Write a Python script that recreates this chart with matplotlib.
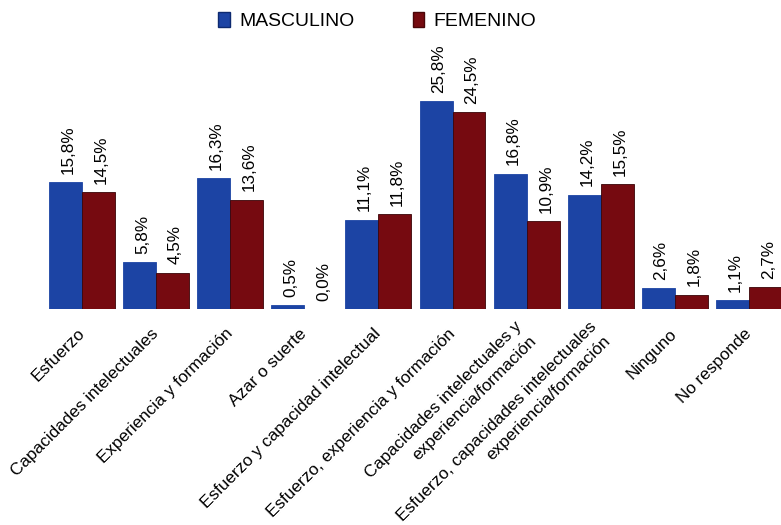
import matplotlib
matplotlib.use("Agg")
import matplotlib.pyplot as plt
from matplotlib import font_manager
from matplotlib.patches import Patch
from matplotlib.transforms import ScaledTranslation

# data
categorias = [
    "Esfuerzo",
    "Capacidades intelectuales",
    "Experiencia y formación",
    "Azar o suerte",
    "Esfuerzo y capacidad intelectual",
    "Esfuerzo, experiencia y formación",
    "Capacidades intelectuales y\nexperiencia/formación",
    "Esfuerzo, capacidades intelectuales\nexperiencia/formación",
    "Ninguno",
    "No responde",
]
masculino = [15.8, 5.8, 16.3, 0.5, 11.1, 25.8, 16.8, 14.2, 2.6, 1.1]
femenino = [14.5, 4.5, 13.6, 0.0, 11.8, 24.5, 10.9, 15.5, 1.8, 2.7]
series_names = ["MASCULINO", "FEMENINO"]

color_m = "#1c44a4"
color_f = "#760a10"

# condensed font if present
installed = {f.name for f in font_manager.fontManager.ttflist}
if "Liberation Sans Narrow" in installed:
    fam, scale = "Liberation Sans Narrow", 1.0
else:
    fam, scale = "Liberation Sans", 0.82
plt.rcParams["font.family"] = [fam, "DejaVu Sans"]

fig = plt.figure(figsize=(7.81, 5.25), dpi=100)
ax = fig.add_axes([0, 0.4114, 1, 0.5028])

x = list(range(len(categorias)))
w = 0.445
bars_m = ax.bar([i - w / 2 for i in x], masculino, width=w, color=color_m,
                edgecolor=color_m, linewidth=0.6)
bars_f = ax.bar([i + w / 2 for i in x], femenino, width=w, color=color_f,
                edgecolor="#3a0306", linewidth=0.6)

def fmt(v):
    return f"{v:.1f}%".replace(".", ",")

for bars, vals in [(bars_m, masculino), (bars_f, femenino)]:
    for b, v in zip(bars, vals):
        ax.annotate(fmt(v), (b.get_x() + b.get_width() / 2, v),
                    xytext=(2, 6), textcoords="offset points",
                    rotation=90, ha="center", va="bottom",
                    fontsize=15 * scale)

ax.set_xlim(-1.107, 9.433)
ax.set_ylim(0, 32.8)
ax.set_xticks(x)
ax.set_xticklabels(categorias, rotation=45, ha="right", va="center",
                   rotation_mode="anchor", multialignment="right",
                   fontsize=15 * scale)
shift = ScaledTranslation(4 / 100, 0, fig.dpi_scale_trans)
for lbl in ax.get_xticklabels():
    lbl.set_linespacing(1.4)
    lbl.set_transform(lbl.get_transform() + shift)
ax.tick_params(axis="x", length=0, pad=16)
ax.set_yticks([])
for s in ax.spines.values():
    s.set_visible(False)

handles = [Patch(facecolor=color_m, edgecolor="#0d2a70"),
           Patch(facecolor=color_f, edgecolor="#4a0508")]
fig.legend(handles, series_names, loc="center", bbox_to_anchor=(0.483, 0.96),
           ncol=2, frameon=False, fontsize=17 * scale, handlelength=0.6,
           handleheight=0.8, handletextpad=0.5, columnspacing=3.0)

fig.savefig("out.png", dpi=100)
